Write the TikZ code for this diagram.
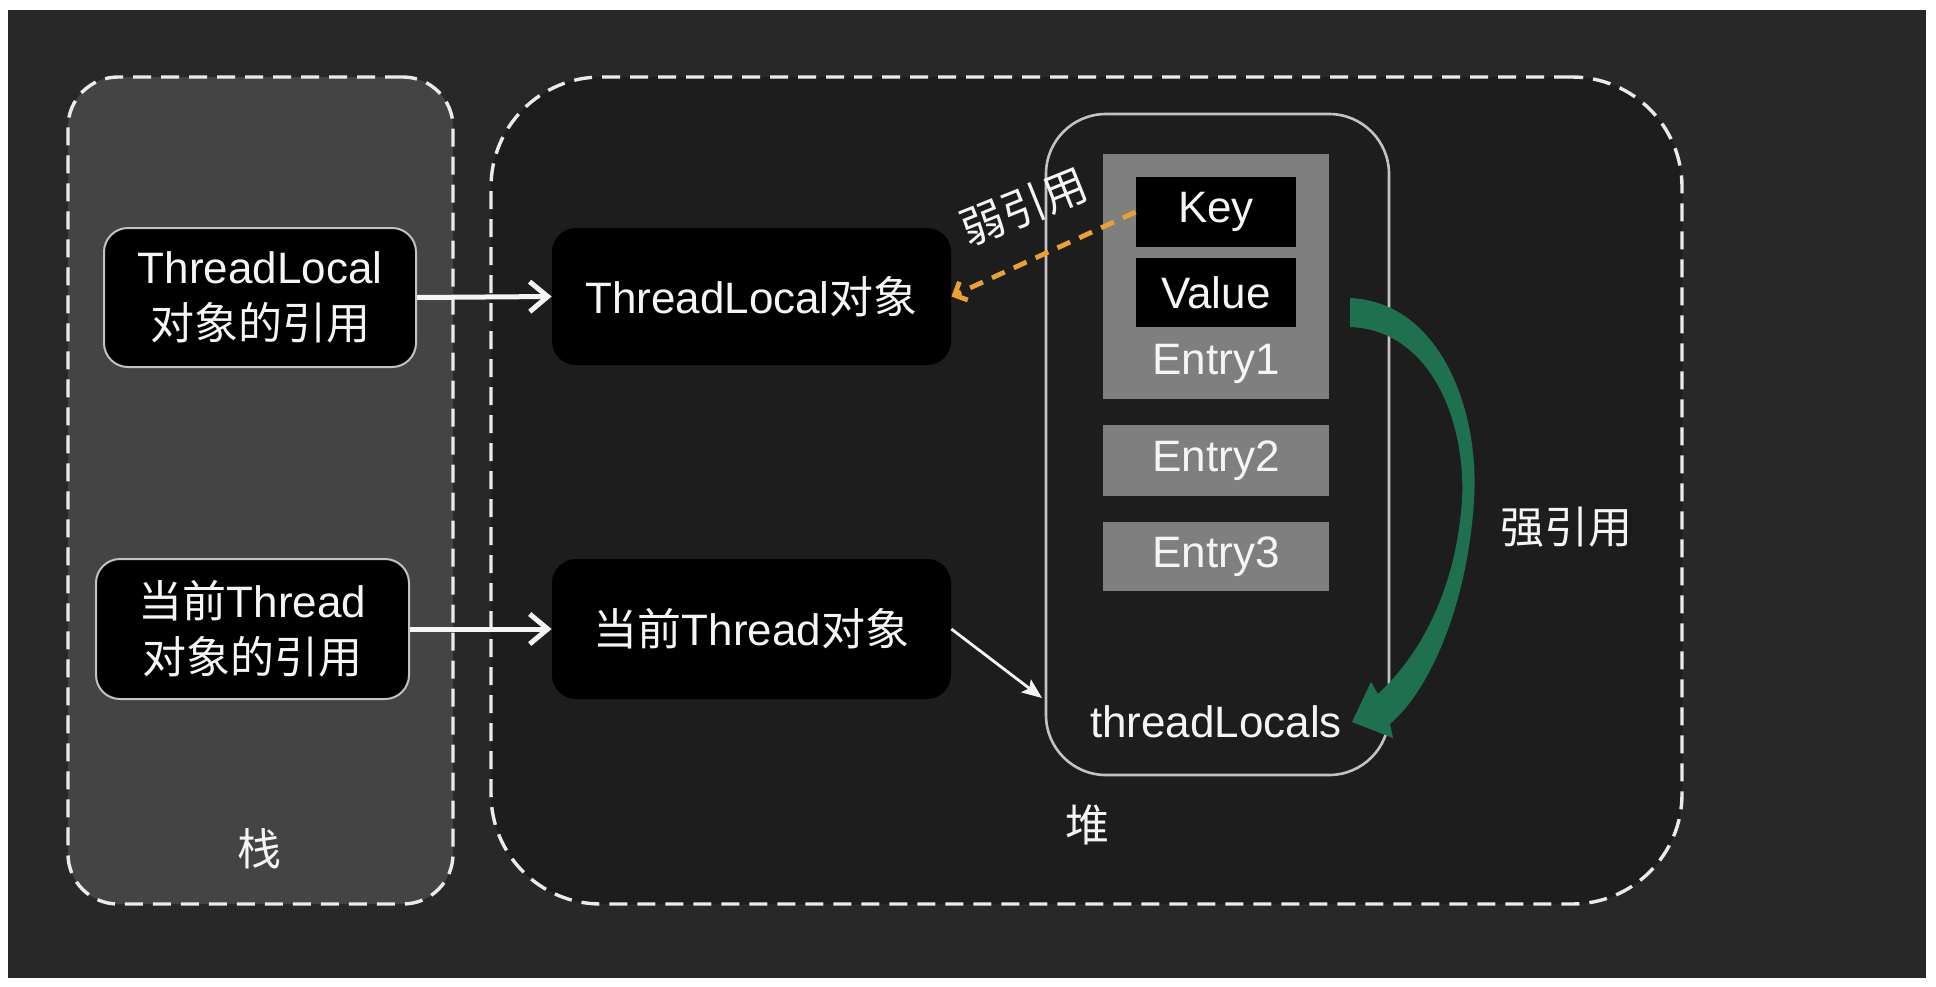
\documentclass[tikz,border=0pt]{standalone}
\usepackage{fontspec}
\setmainfont{Liberation Sans}
\newfontfamily\cjk{Noto Sans CJK SC}
\newcommand{\zh}[1]{{\cjk #1}}
\usetikzlibrary{arrows.meta}
\definecolor{bgdark}{RGB}{40,40,40}
\definecolor{stackgray}{RGB}{68,68,68}
\definecolor{heapdark}{RGB}{29,29,29}
\definecolor{entrygray}{RGB}{127,127,127}
\definecolor{edgegray}{RGB}{195,195,195}
\definecolor{weakorange}{RGB}{236,160,50}
\definecolor{stronggreen}{RGB}{30,112,78}
\definecolor{txtwhite}{RGB}{245,245,245}
\begin{document}
\begin{tikzpicture}[x=0.5pt,y=-0.5pt,
  txt/.style={text=txtwhite, font=\fontsize{22}{28}\selectfont, inner sep=0pt, align=center},
  refbox/.style={txt, draw=edgegray, line width=1pt, fill=black, rounded corners=12pt},
  objbox/.style={txt, fill=black, rounded corners=12pt},
  region/.style={draw=white!92!black, line width=1.7pt, dash pattern=on 9pt off 5pt},
  graybox/.style={txt, fill=entrygray},
  blackbox/.style={txt, fill=black},
  thickarrow/.style={draw=txtwhite, line width=2.5pt, -{Straight Barb[length=9pt,width=15pt]}},
  thinarrow/.style={draw=txtwhite, line width=1.4pt, -{Stealth[length=10pt,width=8pt,inset=2pt]}},
  weakarrow/.style={draw=weakorange, line width=2.4pt, dash pattern=on 7pt off 5pt, -{Straight Barb[length=5pt,width=10pt]}},
]
\useasboundingbox (0,0) rectangle (1936,986);
\fill[white] (0,0) rectangle (1936,986);
\fill[bgdark] (8,10) rectangle (1926,978);

% regions
\node[region, fill=stackgray, rounded corners=25pt, minimum width=192.5pt, minimum height=413.5pt, inner sep=0pt] (stack) at (260.5,490.5) {};
\node[region, fill=heapdark, rounded corners=55pt, minimum width=595.5pt, minimum height=413.5pt, inner sep=0pt] (heap) at (1086.5,490.5) {};

% stack boxes
\node[refbox, minimum width=156pt, minimum height=69.5pt] (tlref) at (260,297.5) {ThreadLocal\\\zh{对象的引用}};
\node[refbox, minimum width=156.5pt, minimum height=70pt] (thref) at (252.5,629) {\zh{当前}Thread\\\zh{对象的引用}};

% heap objects
\node[objbox, minimum width=199.5pt, minimum height=68.5pt] (tlobj) at (751.5,296.5) {ThreadLocal\zh{对象}};
\node[objbox, minimum width=199.5pt, minimum height=70pt] (thobj) at (751.5,629) {\zh{当前}Thread\zh{对象}};

% threadLocals container
\node[draw=edgegray, line width=1.3pt, rounded corners=30pt, minimum width=171.5pt, minimum height=330.5pt, inner sep=0pt] (cont) at (1217.5,444.5) {};
\node[graybox, minimum width=113pt, minimum height=122.5pt] (entry1) at (1216,276.5) {};
\node[blackbox, minimum width=80pt, minimum height=35pt] (key) at (1216,212) {Key};
\node[blackbox, minimum width=80pt, minimum height=34.5pt] (value) at (1216,292.5) {Value};
\node[txt] (e1lbl) at (1216,364) {Entry1};
\node[graybox, minimum width=113pt, minimum height=35.5pt] (entry2) at (1216,460.5) {Entry2};
\node[graybox, minimum width=113pt, minimum height=34.5pt] (entry3) at (1216,556.5) {Entry3};
\node[txt] (tls) at (1216,722) {threadLocals};
\coordinate (tlsin) at (1042,698);

% labels
\node[txt] (stacklbl) at (259,849) {\zh{栈}};
\node[txt] (heaplbl) at (1087,825) {\zh{堆}};
\node[txt] (stronglbl) at (1566,527) {\zh{强引用}};
\node[txt, rotate=22] (weaklbl) at (1024,207) {\zh{弱引用}};

% connectors
\draw[thickarrow] (tlref.east) -- (tlobj.west);
\draw[thickarrow] (thref.east) -- (thobj.west);
\draw[thinarrow] (thobj.east) -- (tlsin);
\draw[weakarrow] (key.west) -- (tlobj.east);

% strong reference arrow (tapered green band)
\fill[stronggreen] (1350,298) .. controls (1440,302) and (1480,410) .. (1474,500)
  .. controls (1468,600) and (1432,688) .. (1390,724) -- (1393,738) -- (1352,722) -- (1371,682) -- (1378,694)
  .. controls (1420,655) and (1456,590) .. (1462,500)
  .. controls (1466,420) and (1430,330) .. (1350,327) -- cycle;
\end{tikzpicture}
\end{document}
